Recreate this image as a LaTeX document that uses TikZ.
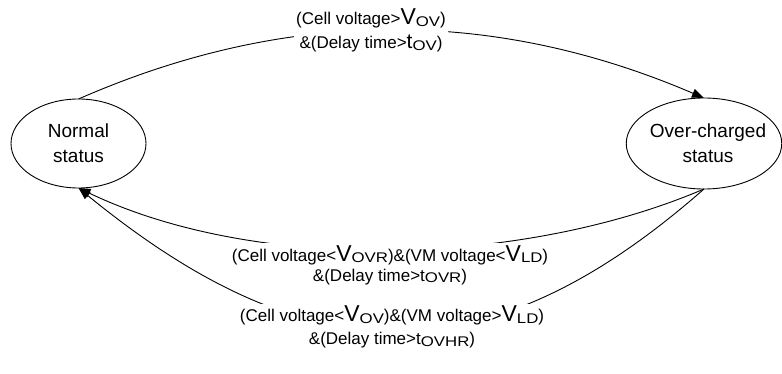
\documentclass[tikz,border=0pt]{standalone}
\usepackage{fontspec}
\setmainfont{Liberation Sans}
\usetikzlibrary{shapes.geometric,arrows.meta}
% large symbol letters and their lowered, widened subscripts
\newcommand\bigV{{\fontsize{23}{23}\selectfont V}}
\newcommand\bigT{{\fontsize{21}{21}\selectfont t}}
\newcommand\lowsub[1]{\raisebox{-1.5pt}{\scalebox{1.2}[1]{\fontsize{14}{14}\selectfont #1}}}
\begin{document}
\begin{tikzpicture}[x=1pt,y=-1pt,
  state/.style={ellipse,draw,line width=0.9pt,inner sep=0pt,outer sep=0pt},
  statetext/.style={align=center,font=\fontsize{19}{25}\selectfont},
  cond/.style={align=center,fill=white,inner sep=2pt},
  trans/.style={line width=0.9pt,-{Triangle[length=12pt,width=9pt]}}]
\useasboundingbox (0,0) rectangle (782,374);

% states
\node[state,minimum width=135pt,minimum height=89pt] (nor) at (78.5,143.5) {};
\node[statetext] (nort) at (78.5,143.5) {Normal\\status};
\node[state,minimum width=155.5pt,minimum height=91pt] (ovc) at (704,143.5) {};
\node[statetext] (ovct) at (708,143.5) {Over-charged\\status};

% transitions
\draw[trans] (nor.north) .. controls +(210,-92) and +(-210,-90) .. (ovc.north);
\draw[trans] (ovc.south) .. controls +(-180,77) and +(180,86) .. (nor.south);
\draw[trans] (ovc.south) .. controls +(-223,196) and +(223,182) .. (nor.south);

% transition conditions
\node[cond,font=\fontsize{17}{24}\selectfont] (c1) at (371,30.5)
  {(Cell voltage>\bigV\lowsub{OV})\\\&(Delay time>\bigT\lowsub{OV})};
\node[cond,font=\fontsize{17}{20}\selectfont] (c2) at (390,265)
  {(Cell voltage<\bigV\lowsub{OVR})\&(VM voltage<\bigV\lowsub{LD})\\\&(Delay time>t\lowsub{OVR})};
\node[cond,font=\fontsize{17}{23}\selectfont] (c3) at (392,327)
  {(Cell voltage<\bigV\lowsub{OV})\&(VM voltage>\bigV\lowsub{LD})\\\&(Delay time>t\lowsub{OVHR})};
\end{tikzpicture}
\end{document}
